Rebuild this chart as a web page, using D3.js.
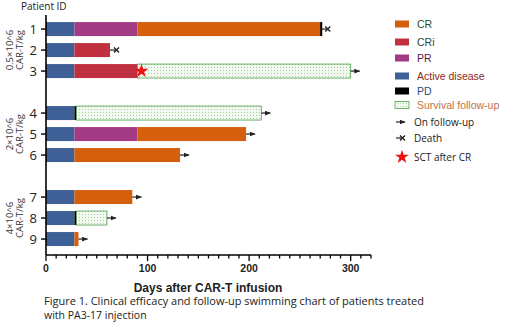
<!DOCTYPE html>
<html>
<head>
<meta charset="utf-8">
<script src="https://cdn.jsdelivr.net/npm/d3@7"></script>
<style>
body { margin: 0; background: #fff; }
svg { display: block; }
</style>
</head>
<body>
<script>
// patient rows (slot = vertical position, gaps between dose groups)
var patients = ["1", "2", "3", "4", "5", "6", "7", "8", "9"];
var slots = [0, 1, 2, 4, 5, 6, 8, 9, 10];

// segments per patient: [start day, end day, status]
var segments = [
    [[0, 28, "Active disease"], [28, 90, "PR"], [90, 271, "CR"]],
    [[0, 28, "Active disease"], [28, 63, "CRi"]],
    [[0, 28, "Active disease"], [28, 90, "CRi"], [90, 300, "Survival follow-up"]],
    [[0, 28, "Active disease"], [28, 30, "PD"], [30, 212, "Survival follow-up"]],
    [[0, 28, "Active disease"], [28, 90, "PR"], [90, 197, "CR"]],
    [[0, 28, "Active disease"], [28, 132, "CR"]],
    [[0, 28, "Active disease"], [28, 85, "CR"]],
    [[0, 28, "Active disease"], [28, 30, "PD"], [30, 60, "Survival follow-up"]],
    [[0, 28, "Active disease"], [28, 32, "CR"]]
];

// end marker per patient
var endMarks = ["death", "death", "follow", "follow", "follow", "follow", "follow", "follow", "follow"];
var pdAtEnd = [271, null, null, null, null, null, null, null, null];
var sctDays = [[3, 94]];

var groups = [["0.5×10^6", "CAR-T/kg"], ["2×10^6", "CAR-T/kg"], ["4×10^6", "CAR-T/kg"]];
var groupSlots = [1, 5, 9];

var statusNames = ["CR", "CRi", "PR", "Active disease", "PD", "Survival follow-up"];
var statusColors = ["#d45f0c", "#c1303f", "#a33b84", "#3e6096", "#000000", "#eef7ea"];
var statusText = ["#2e4d1f", "#1f4747", "#5b1c4a", "#8a2a1a", "#2b4a7c", "#c4714d"];

var xTicks = [0, 100, 200, 300];

var width = 520, height = 324;
var color = d3.scaleOrdinal().domain(statusNames).range(statusColors);

var x = d3.scaleLinear().domain([0, 320]).range([46, 371]);
var y = d3.scaleLinear().domain([-0.67, 10.76]).range([15, 255]);
var barH = 14;

var svg = d3.select("body").append("svg")
    .attr("width", width)
    .attr("height", height)
    .style("font-family", "Arial, 'Liberation Sans', sans-serif");

var defs = svg.append("defs");
var pat = defs.append("pattern")
    .attr("id", "dots")
    .attr("width", 3)
    .attr("height", 3)
    .attr("patternUnits", "userSpaceOnUse");
pat.append("rect").attr("width", 3).attr("height", 3).attr("fill", "#f3f9f0");
pat.append("rect").attr("x", 1).attr("y", 1).attr("width", 1).attr("height", 1).attr("fill", "#9fcf9a");

defs.append("marker")
    .attr("id", "arrow")
    .attr("viewBox", "0 0 10 10")
    .attr("refX", 9).attr("refY", 5)
    .attr("markerWidth", 5).attr("markerHeight", 5)
    .attr("orient", "auto")
    .append("path")
    .attr("d", "M0,1 L10,5 L0,9 Z")
    .attr("fill", "#222");

function fillFor(s) {
    return s === "Survival follow-up" ? "url(#dots)" : color(s);
}

// bars
var rows = svg.selectAll(".row")
    .data(segments)
    .enter().append("g")
    .attr("class", "row");

rows.selectAll("rect")
    .data(function(d) { return d; })
    .enter().append("rect")
    .attr("x", function(d) { return x(d[0]); })
    .attr("width", function(d) { return x(d[1]) - x(d[0]); })
    .attr("y", function(d) {
        var i = segments.indexOf(d3.select(this.parentNode).datum());
        return y(slots[i]) - barH / 2;
    })
    .attr("height", barH)
    .attr("fill", function(d) { return fillFor(d[2]); })
    .attr("stroke", function(d) { return d[2] === "Survival follow-up" ? "#4f9f4f" : "none"; })
    .attr("stroke-width", 0.8);

// PD line at the end of patient 1
pdAtEnd.forEach(function(d, i) {
    if (d === null) return;
    svg.append("rect")
        .attr("x", x(d) - 1)
        .attr("width", 2)
        .attr("y", y(slots[i]) - barH / 2)
        .attr("height", barH)
        .attr("fill", "#000");
});

// end markers
segments.forEach(function(seg, i) {
    var endX = x(seg[seg.length - 1][1]);
    var cy = y(slots[i]);
    if (endMarks[i] === "follow") {
        svg.append("line")
            .attr("x1", endX).attr("x2", endX + 9)
            .attr("y1", cy).attr("y2", cy)
            .attr("stroke", "#222").attr("stroke-width", 1.2)
            .attr("marker-end", "url(#arrow)");
    } else {
        svg.append("line")
            .attr("x1", endX).attr("x2", endX + 6)
            .attr("y1", cy).attr("y2", cy)
            .attr("stroke", "#222").attr("stroke-width", 1.2);
        svg.append("path")
            .attr("d", "M" + (endX + 4) + "," + (cy - 2.5) + "L" + (endX + 9) + "," + (cy + 2.5) +
                "M" + (endX + 4) + "," + (cy + 2.5) + "L" + (endX + 9) + "," + (cy - 2.5))
            .attr("stroke", "#222").attr("stroke-width", 1.4);
    }
});

// SCT star
var star = d3.symbol().type(d3.symbolStar).size(60);
sctDays.forEach(function(d) {
    svg.append("path")
        .attr("d", star())
        .attr("transform", "translate(" + x(d[1]) + "," + y(slots[d[0] - 1]) + ")")
        .attr("fill", "#ee1111");
});

// y axis
var yAxis = svg.append("g")
    .attr("transform", "translate(" + x(0) + ",0)");
yAxis.append("line")
    .attr("x1", 0).attr("x2", 0)
    .attr("y1", y.range()[0]).attr("y2", y.range()[1])
    .attr("stroke", "#000").attr("stroke-width", 1.6);
yAxis.selectAll(".tick")
    .data(patients)
    .enter().append("g")
    .attr("transform", function(d, i) { return "translate(0," + y(slots[i]) + ")"; })
    .each(function(d) {
        var g = d3.select(this);
        g.append("line").attr("x1", -5).attr("x2", 0).attr("stroke", "#000").attr("stroke-width", 1.4);
        g.append("text")
            .attr("x", -9)
            .attr("dy", "0.36em")
            .attr("text-anchor", "end")
            .style("font-family", "'Open Sans', sans-serif")
            .style("font-size", "13px")
            .attr("fill", "#222")
            .text(d);
    });

svg.append("text")
    .attr("x", 21).attr("y", 10)
    .style("font-family", "'Open Sans', sans-serif")
    .style("font-size", "10px")
    .attr("fill", "#222")
    .text("Patient ID");

// dose group labels
groups.forEach(function(g, i) {
    var t = svg.append("text")
        .attr("transform", "translate(13," + y(groupSlots[i]) + ") rotate(-90)")
        .attr("text-anchor", "middle")
        .style("font-family", "'Open Sans', sans-serif")
        .style("font-size", "9.5px")
        .attr("fill", "#333");
    t.append("tspan").attr("x", 0).attr("dy", 0).text(g[0]);
    t.append("tspan").attr("x", 0).attr("dy", "1.05em").text(g[1]);
});

// x axis
var xAxis = svg.append("g")
    .attr("transform", "translate(0," + y.range()[1] + ")");
xAxis.append("line")
    .attr("x1", x(0)).attr("x2", x(320))
    .attr("stroke", "#000").attr("stroke-width", 1.6);
xAxis.selectAll(".minor")
    .data(d3.range(0, 330, 10))
    .enter().append("line")
    .attr("x1", function(d) { return x(d); })
    .attr("x2", function(d) { return x(d); })
    .attr("y1", 0)
    .attr("y2", function(d) { return d % 100 === 0 ? 6 : 3.5; })
    .attr("stroke", "#000").attr("stroke-width", 1.3);
xAxis.selectAll(".lbl")
    .data(xTicks)
    .enter().append("text")
    .attr("x", function(d) { return x(d); })
    .attr("y", 17)
    .attr("text-anchor", "middle")
    .style("font-size", "10.5px")
    .style("font-weight", "bold")
    .attr("fill", "#222")
    .text(function(d) { return d; });

svg.append("text")
    .attr("x", 208).attr("y", 292)
    .attr("text-anchor", "middle")
    .style("font-size", "12px")
    .style("font-weight", "bold")
    .attr("fill", "#222")
    .text("Days after CAR-T infusion");

// legend
var legendY = [24, 42, 58, 76, 91, 105];
var legend = svg.append("g");
statusNames.forEach(function(s, i) {
    legend.append("rect")
        .attr("x", 395).attr("y", legendY[i] - 3.5)
        .attr("width", 14).attr("height", 7)
        .attr("fill", fillFor(s))
        .attr("stroke", s === "Survival follow-up" ? "#4f9f4f" : "none")
        .attr("stroke-width", 0.8);
    legend.append("text")
        .attr("x", 417).attr("y", legendY[i])
        .attr("dy", "0.36em")
        .style("font-size", "10.5px")
        .attr("fill", statusText[i])
        .text(s);
});

legend.append("line")
    .attr("x1", 396).attr("x2", 405).attr("y1", 122).attr("y2", 122)
    .attr("stroke", "#222").attr("stroke-width", 1.2)
    .attr("marker-end", "url(#arrow)");
legend.append("text")
    .attr("x", 414).attr("y", 122).attr("dy", "0.36em")
    .style("font-family", "'Open Sans', sans-serif")
    .style("font-size", "10px").attr("fill", "#222")
    .text("On follow-up");

legend.append("line")
    .attr("x1", 396).attr("x2", 402).attr("y1", 138).attr("y2", 138)
    .attr("stroke", "#222").attr("stroke-width", 1.2);
legend.append("path")
    .attr("d", "M400,135.5L405,140.5M400,140.5L405,135.5")
    .attr("stroke", "#222").attr("stroke-width", 1.4);
legend.append("text")
    .attr("x", 414).attr("y", 138).attr("dy", "0.36em")
    .style("font-family", "'Open Sans', sans-serif")
    .style("font-size", "10px").attr("fill", "#222")
    .text("Death");

legend.append("path")
    .attr("d", star())
    .attr("transform", "translate(402,157)")
    .attr("fill", "#ee1111");
legend.append("text")
    .attr("x", 414).attr("y", 157).attr("dy", "0.36em")
    .style("font-family", "'Open Sans', sans-serif")
    .style("font-size", "10px").attr("fill", "#222")
    .text("SCT after CR");

// caption
var caption = ["Figure 1. Clinical efficacy and follow-up swimming chart of patients treated",
    "with PA3-17 injection"];
caption.forEach(function(c, i) {
    svg.append("text")
        .attr("x", 44).attr("y", 305 + i * 14)
        .style("font-family", "'Open Sans', sans-serif")
        .style("font-size", "10.5px")
        .attr("fill", "#222")
        .attr("textLength", i === 0 ? 380 : null)
        .attr("lengthAdjust", "spacingAndGlyphs")
        .text(c);
});
</script>
</body>
</html>
